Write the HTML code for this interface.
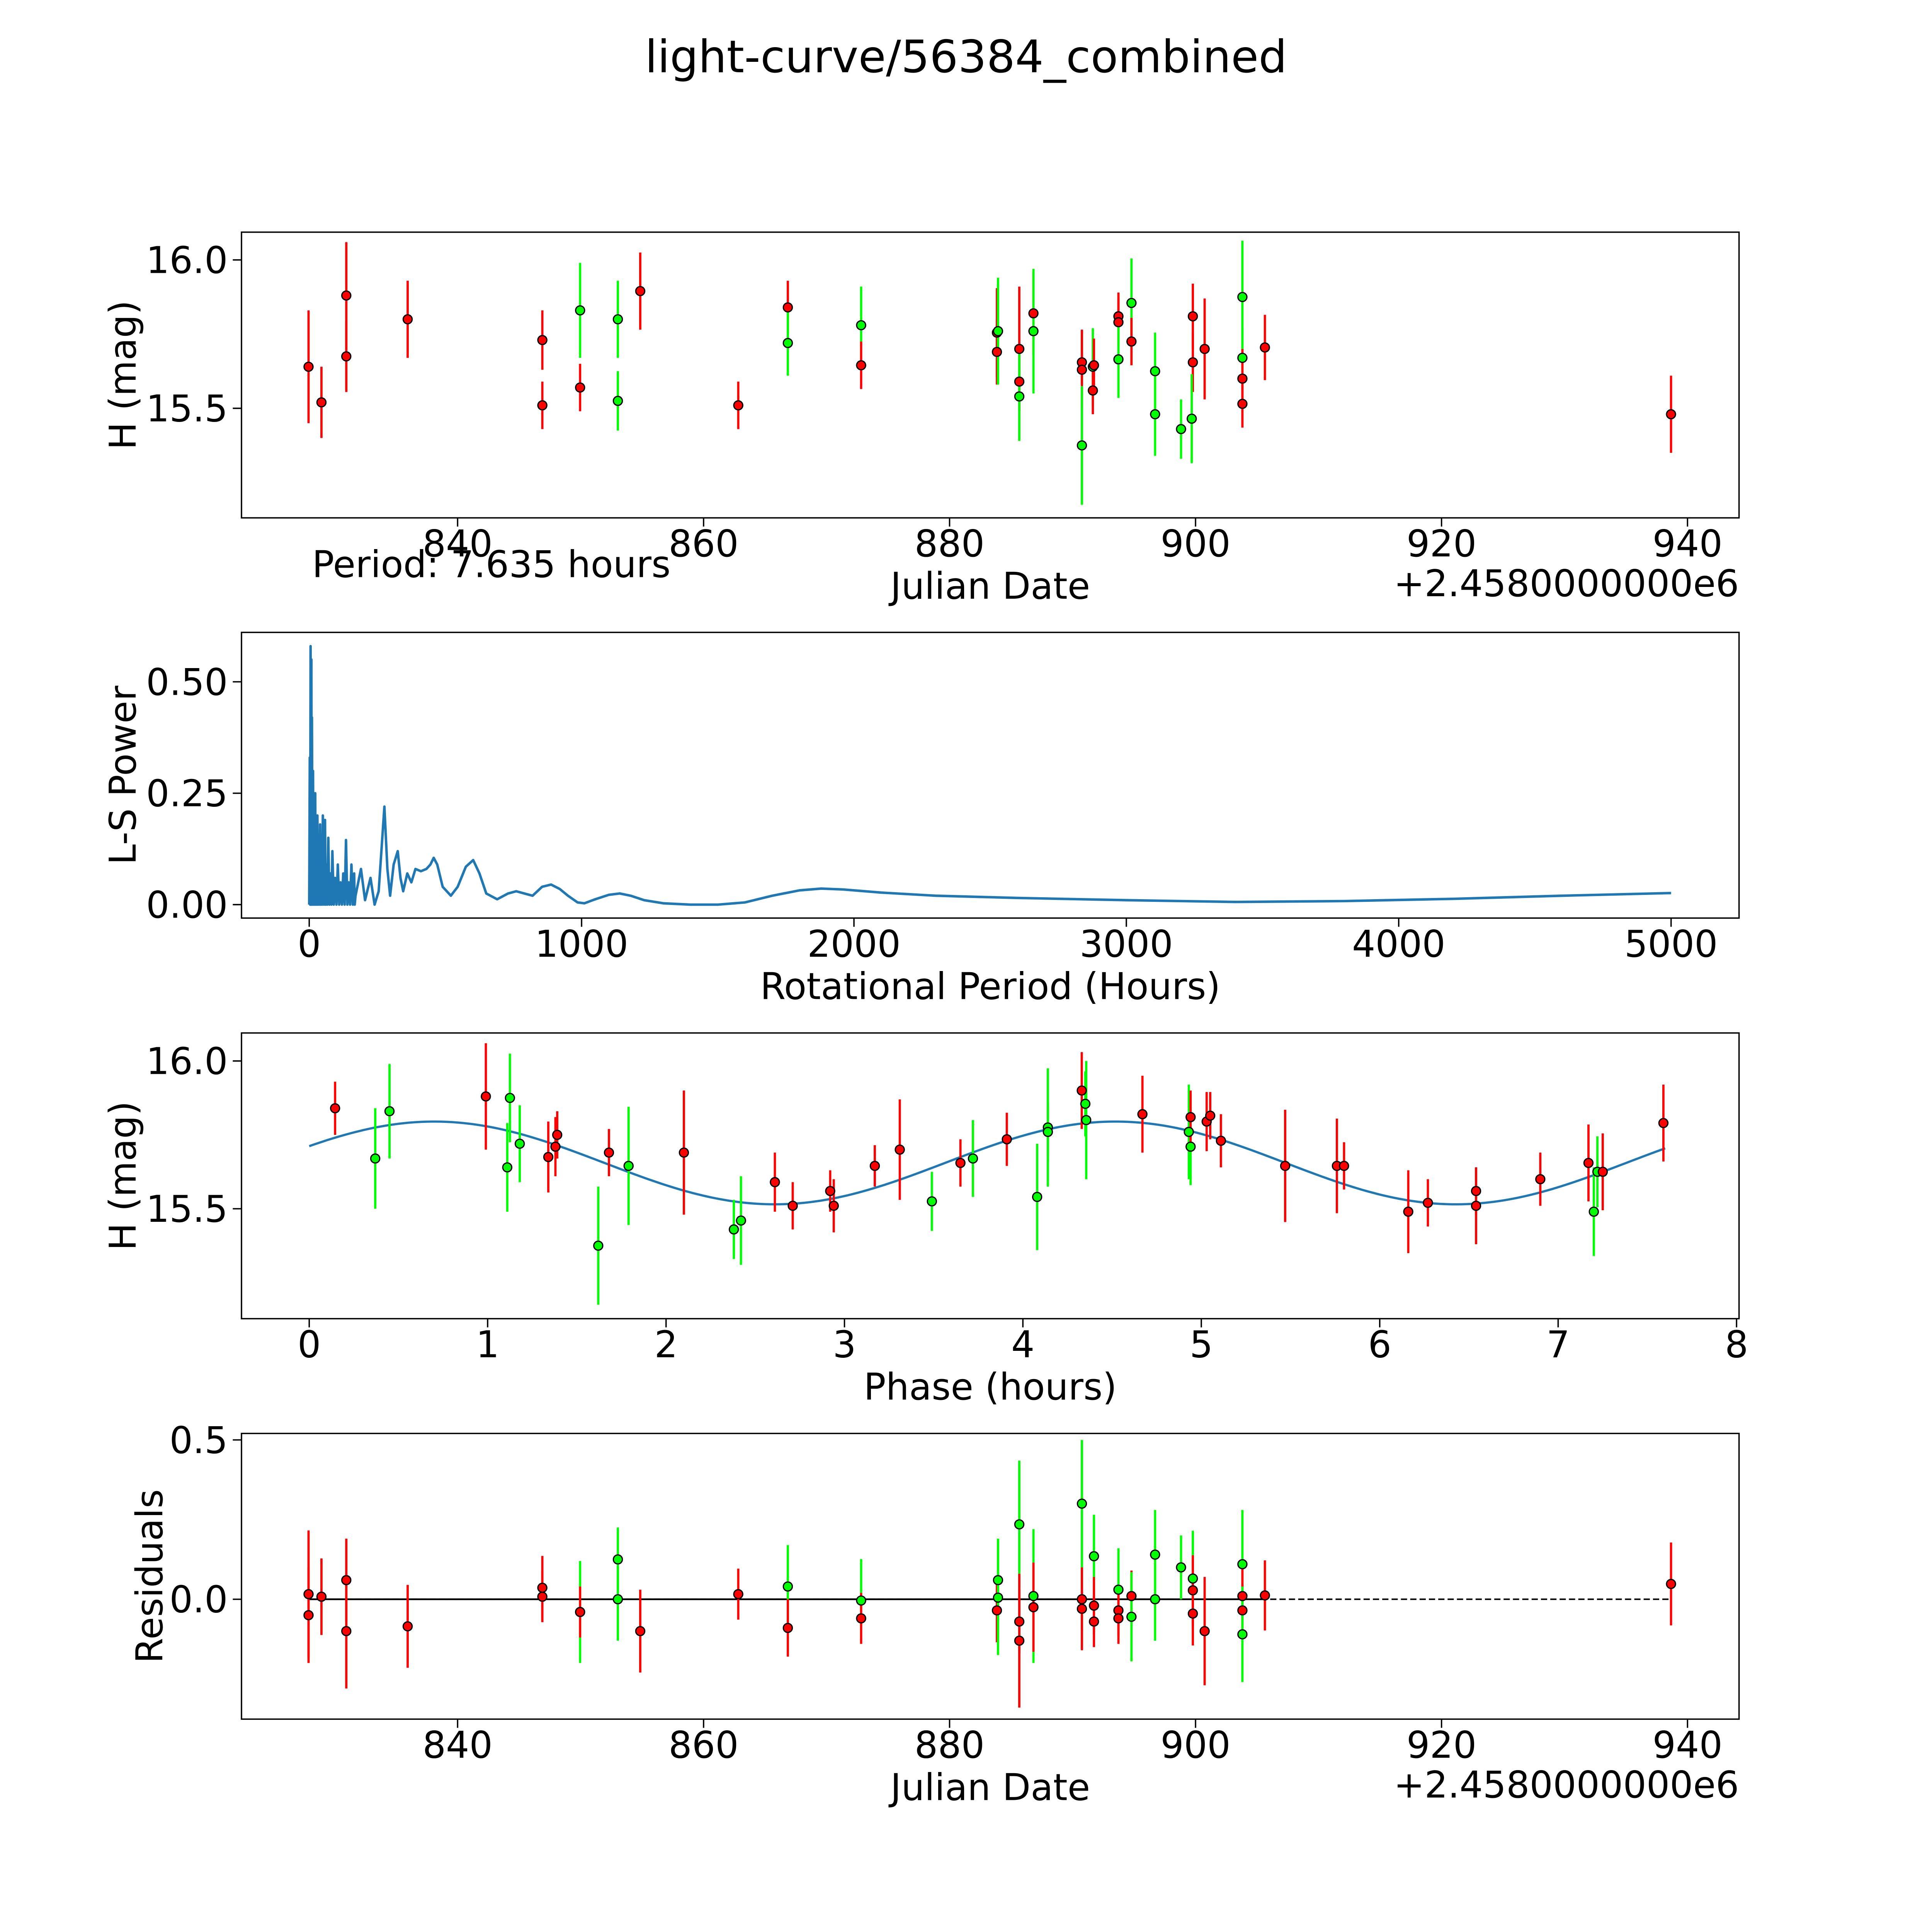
<!DOCTYPE html>
<html><head><meta charset="utf-8"><style>
html,body{margin:0;padding:0;background:#fff;overflow:hidden}
svg{display:block;position:fixed;left:0;top:0;width:100vw;height:100vh;font-family:"DejaVu Sans","Liberation Sans",sans-serif}
</style></head><body>
<svg id="fig" viewBox="0 0 1552 1552" preserveAspectRatio="none" xmlns="http://www.w3.org/2000/svg">
<rect width="1552" height="1552" fill="#fff"/>
<text x="776" y="58" font-size="36" text-anchor="middle">light-curve/56384_combined</text>
<g id="g1"></g>
<g id="g2"></g>
<g id="g3"></g>
<g id="g4"></g>
</svg>
<script>
// ---- Panel 1 data: light curve
const dates=[827.88,828.93,830.95,830.95,835.94,846.89,846.89,849.96,849.96,853.03,853.03,854.85,862.82,866.85,866.85,872.81,872.81,883.85,883.85,883.94,885.67,885.67,885.67,886.82,886.82,890.76,890.76,890.76,891.65,891.74,891.65,893.73,893.73,893.73,894.79,894.79,896.71,896.71,898.82,899.78,899.78,899.69,900.74,903.81,903.81,903.81,903.81,905.64,938.66];
const mags=[15.64,15.52,15.88,15.675,15.80,15.73,15.51,15.83,15.57,15.80,15.525,15.895,15.51,15.84,15.72,15.78,15.645,15.755,15.69,15.76,15.70,15.59,15.54,15.82,15.76,15.655,15.63,15.375,15.64,15.645,15.56,15.81,15.79,15.665,15.855,15.725,15.625,15.48,15.43,15.81,15.655,15.465,15.70,15.875,15.67,15.60,15.515,15.705,15.48];
const errs=[0.19,0.12,0.18,0.12,0.13,0.10,0.08,0.16,0.08,0.13,0.10,0.13,0.08,0.09,0.11,0.13,0.08,0.15,0.11,0.18,0.21,0.09,0.15,0.14,0.21,0.11,0.13,0.20,0.13,0.09,0.08,0.08,0.08,0.13,0.15,0.08,0.13,0.14,0.10,0.11,0.10,0.15,0.17,0.19,0.10,0.10,0.08,0.11,0.13];
const colors="rrrrrrrgrggrrrggrrrgrrgrgrrggrrrrggrgggrrgrggrrrr".split("");
// ---- Panel 2 data: periodogram
const spikeHrs=[2,5,8,10,14,18,22,26,30,35,40,45,50,58,62,70,78,85,95,105,115,125,135,145,155,165];
const spikePow=[0.33,0.58,0.55,0.42,0.30,0.20,0.25,0.15,0.20,0.12,0.18,0.10,0.20,0.19,0.09,0.15,0.07,0.12,0.06,0.09,0.05,0.07,0.145,0.05,0.09,0.07];
const perHrs=[170,190,205,225,240,255,265,276,287,297,310,325,335,345,360,375,390,410,430,445,457,470,490,520,545,575,602,625,650,690,730,760,790,820,855,888,920,950,985,1010,1050,1100,1140,1180,1230,1300,1400,1500,1600,1700,1800,1880,1960,2100,2300,2600,3000,3400,3800,4200,4600,5000];
const perPow=[0.02,0.08,0.01,0.06,0.0,0.03,0.12,0.22,0.08,0.02,0.09,0.12,0.06,0.03,0.07,0.05,0.08,0.075,0.08,0.09,0.105,0.09,0.04,0.02,0.04,0.085,0.10,0.07,0.025,0.012,0.025,0.03,0.025,0.02,0.04,0.045,0.035,0.02,0.005,0.003,0.012,0.022,0.025,0.02,0.01,0.003,0.0,0.0,0.005,0.02,0.032,0.036,0.034,0.027,0.02,0.015,0.01,0.006,0.008,0.013,0.02,0.026];
// ---- Panel 3 data: phased
const phases=[0.145,0.37,0.45,0.99,1.11,1.125,1.18,1.34,1.38,1.39,1.62,1.68,1.79,2.1,2.38,2.42,2.61,2.71,2.92,2.94,3.17,3.31,3.49,3.65,3.72,3.91,4.08,4.14,4.14,4.33,4.35,4.355,4.67,4.93,4.94,4.94,5.03,5.05,5.11,5.47,5.76,5.80,6.16,6.27,6.54,6.54,6.9,7.17,7.2,7.22,7.25,7.59];
const phMags=[15.84,15.67,15.83,15.88,15.64,15.875,15.72,15.675,15.71,15.75,15.375,15.69,15.645,15.69,15.43,15.46,15.59,15.51,15.56,15.51,15.645,15.70,15.525,15.655,15.67,15.735,15.54,15.775,15.76,15.9,15.855,15.80,15.82,15.76,15.71,15.81,15.795,15.815,15.73,15.645,15.645,15.645,15.49,15.52,15.56,15.51,15.6,15.655,15.49,15.625,15.625,15.79];
const phErrs=[0.09,0.17,0.16,0.18,0.15,0.15,0.13,0.12,0.10,0.08,0.20,0.08,0.20,0.21,0.10,0.15,0.10,0.08,0.07,0.09,0.07,0.17,0.10,0.08,0.13,0.09,0.18,0.20,0.10,0.13,0.11,0.20,0.13,0.16,0.13,0.09,0.10,0.08,0.09,0.19,0.16,0.08,0.14,0.08,0.08,0.13,0.09,0.13,0.15,0.12,0.13,0.13];
const phColors="rggrgggrrrgrgrggrrrrrrgrgrgggrggrggrrrrrrrrrrrrrggrr".split("");
const fitParams=[15.655,0.14,3.8175,-0.254]; // mean, amplitude, period, t0
// ---- Panel 4 data: residuals
const resDates=[827.88,827.88,828.93,830.95,830.95,835.94,846.89,846.89,849.96,849.96,853.03,853.03,854.85,862.82,866.85,866.85,872.81,872.81,883.85,883.94,883.94,885.67,885.67,885.67,886.82,886.82,890.76,890.76,890.76,891.74,891.74,891.74,893.73,893.73,893.73,894.79,894.79,896.71,896.71,898.82,899.78,899.78,899.78,900.74,903.81,903.81,903.81,903.81,905.64,938.66];
const resVals=[0.016,-0.05,0.008,0.06,-0.10,-0.085,0.036,0.008,-0.04,-0.04,0.125,0.0,-0.10,0.016,0.04,-0.09,-0.004,-0.06,-0.035,0.06,0.005,0.235,-0.07,-0.13,0.01,-0.025,0.30,0.0,-0.03,0.135,-0.02,-0.07,0.03,-0.035,-0.06,0.01,-0.055,0.14,0.0,0.10,0.065,0.028,-0.045,-0.10,0.11,0.01,-0.035,-0.11,0.012,0.048];
const resErrs=[0.2,0.15,0.12,0.13,0.18,0.13,0.1,0.08,0.16,0.08,0.1,0.13,0.13,0.08,0.13,0.09,0.13,0.08,0.1,0.13,0.18,0.2,0.1,0.21,0.21,0.14,0.2,0.1,0.13,0.13,0.09,0.08,0.13,0.08,0.08,0.08,0.14,0.14,0.13,0.1,0.15,0.11,0.1,0.17,0.17,0.1,0.08,0.15,0.11,0.13];
const resColors="rrrrrrrrgrggrrgrgrrgggrrgrgrrgrrgrrrgggggrrrgrrgrr".split("");

const NS="http://www.w3.org/2000/svg";
function mk(parent,tag,attrs,txt){const e=document.createElementNS(NS,tag);for(const k in attrs)e.setAttribute(k,attrs[k]);if(txt!==undefined)e.textContent=txt;parent.appendChild(e);return e;}
const col=c=>c==="g"?"#00ff00":"#ff0000";
const L=194,R=1397,H=229.5,FS=29.5;
function lin(d0,d1,r0,r1){return v=>r0+(v-d0)*(r1-r0)/(d1-d0);}
function frame(g,top,xs,xticks,xlab,yS,yticks,dec,ylab,ylabX,offset){
  for(const t of xticks){
    const x=xs(t);
    const tk=mk(g,"line",{x1:x,x2:x,y1:top+H,y2:top+H+7,stroke:"#000","stroke-width":1.1});
    
    
    const tl=mk(g,"text",{x:x,y:top+H+31,"font-size":FS,"text-anchor":"middle"},String(t));
    
    
  }
  for(const t of yticks){
    const y=yS(t);
    const tk=mk(g,"line",{x1:L-7,x2:L,y1:y,y2:y,stroke:"#000","stroke-width":1.1});
    
    
    const tl=mk(g,"text",{x:L-11,y:y+10.5,"font-size":FS,"text-anchor":"end"},t.toFixed(dec));
    
    
  }
  const xl=mk(g,"text",{x:795.5,y:top+H+65,"font-size":FS,"text-anchor":"middle"},xlab);
  
  
  const cy=top+H/2;
  const yl=mk(g,"text",{x:ylabX,y:cy,"font-size":FS,"text-anchor":"middle","dominant-baseline":"central",transform:`rotate(-90 ${ylabX} ${cy})`},ylab);
  
  
  if(offset){
    const o=mk(g,"text",{x:R,y:top+H+63,"font-size":FS,"text-anchor":"end"},"+2.4580000000e6");
    
    
  }
}
function box(g,top){
  const b=mk(g,"rect",{x:L,y:top,width:R-L,height:H,fill:"none",stroke:"#000","stroke-width":1.1});
  
  
}
function points(g,xsArr,ysArr,esArr,cs,xs,ys){
  for(let i=0;i<xsArr.length;i++){
    const x=xs(xsArr[i]);
    const eb=mk(g,"line",{x1:x,x2:x,y1:ys(ysArr[i]-esArr[i]),y2:ys(ysArr[i]+esArr[i]),stroke:col(cs[i]),"stroke-width":1.8});
    
    
  }
  for(let i=0;i<xsArr.length;i++){
    const p=mk(g,"circle",{cx:xs(xsArr[i]),cy:ys(ysArr[i]),r:3.6,fill:col(cs[i]),stroke:"#000","stroke-width":1});
    
    
  }
}
const dateX=lin(840,940,367.6,1355.6);
// Panel 1
(function(){const g=document.getElementById("g1"),top=186.5;
 const ys=lin(16,15.5,208.8,328);
 points(g,dates,mags,errs,colors,dateX,ys);
 box(g,top);
 frame(g,top,dateX,[840,860,880,900,920,940],"Julian Date",ys,[15.5,16.0],1,"H (mag)",99,true);
 const pt=mk(g,"text",{x:250.7,y:463.6,"font-size":FS},"Period: 7.635 hours");
 
 
})();
// Panel 2
(function(){const g=document.getElementById("g2"),top=508;
 const xs=lin(0,1000,248.4,467.2),ys=lin(0,0.5,726.7,547.7);
 let pts=[[0,0]];
 for(let i=0;i<spikeHrs.length;i++){pts.push([spikeHrs[i],spikePow[i]]);const nx=i+1<spikeHrs.length?(spikeHrs[i]+spikeHrs[i+1])/2:spikeHrs[i]+2;pts.push([nx,0]);}
 for(let i=0;i<perHrs.length;i++)pts.push([perHrs[i],perPow[i]]);
 const l=mk(g,"polyline",{points:pts.map(p=>xs(p[0]).toFixed(2)+","+ys(p[1]).toFixed(2)).join(" "),fill:"none",stroke:"#1f77b4","stroke-width":2,"stroke-linejoin":"round"});
 
 
 box(g,top);
 frame(g,top,xs,[0,1000,2000,3000,4000,5000],"Rotational Period (Hours)",ys,[0,0.25,0.5],2,"L-S Power",99,false);
})();
// Panel 3
(function(){const g=document.getElementById("g3"),top=829.8;
 const xs=lin(0,8,248.4,1395),ys=lin(16,15.5,852.3,971);
 const [m,a,P,t0]=fitParams;const pts=[];
 for(let i=0;i<=300;i++){const t=7.6*i/300;pts.push(xs(t).toFixed(2)+","+ys(m+a*Math.sin(2*Math.PI*(t-t0)/P)).toFixed(2));}
 const c=mk(g,"polyline",{points:pts.join(" "),fill:"none",stroke:"#1f77b4","stroke-width":1.8});
 
 
 points(g,phases,phMags,phErrs,phColors,xs,ys);
 box(g,top);
 frame(g,top,xs,[0,1,2,3,4,5,6,7,8],"Phase (hours)",ys,[15.5,16.0],1,"H (mag)",99,false);
})();
// Panel 4
(function(){const g=document.getElementById("g4"),top=1151.5;
 const ys=lin(0,0.5,1284.7,1156.7);
 const d=mk(g,"line",{x1:dateX(827.88),x2:dateX(938.66),y1:ys(0),y2:ys(0),stroke:"#000","stroke-width":1.2,"stroke-dasharray":"5,2.5"});
 
 
 const s=mk(g,"line",{x1:dateX(827.88),x2:dateX(905.64),y1:ys(0),y2:ys(0),stroke:"#000","stroke-width":1.4});
 
 
 points(g,resDates,resVals,resErrs,resColors,dateX,ys);
 box(g,top);
 frame(g,top,dateX,[840,860,880,900,920,940],"Julian Date",ys,[0,0.5],1,"Residuals",120.5,true);
})();
</script>
</body></html>
